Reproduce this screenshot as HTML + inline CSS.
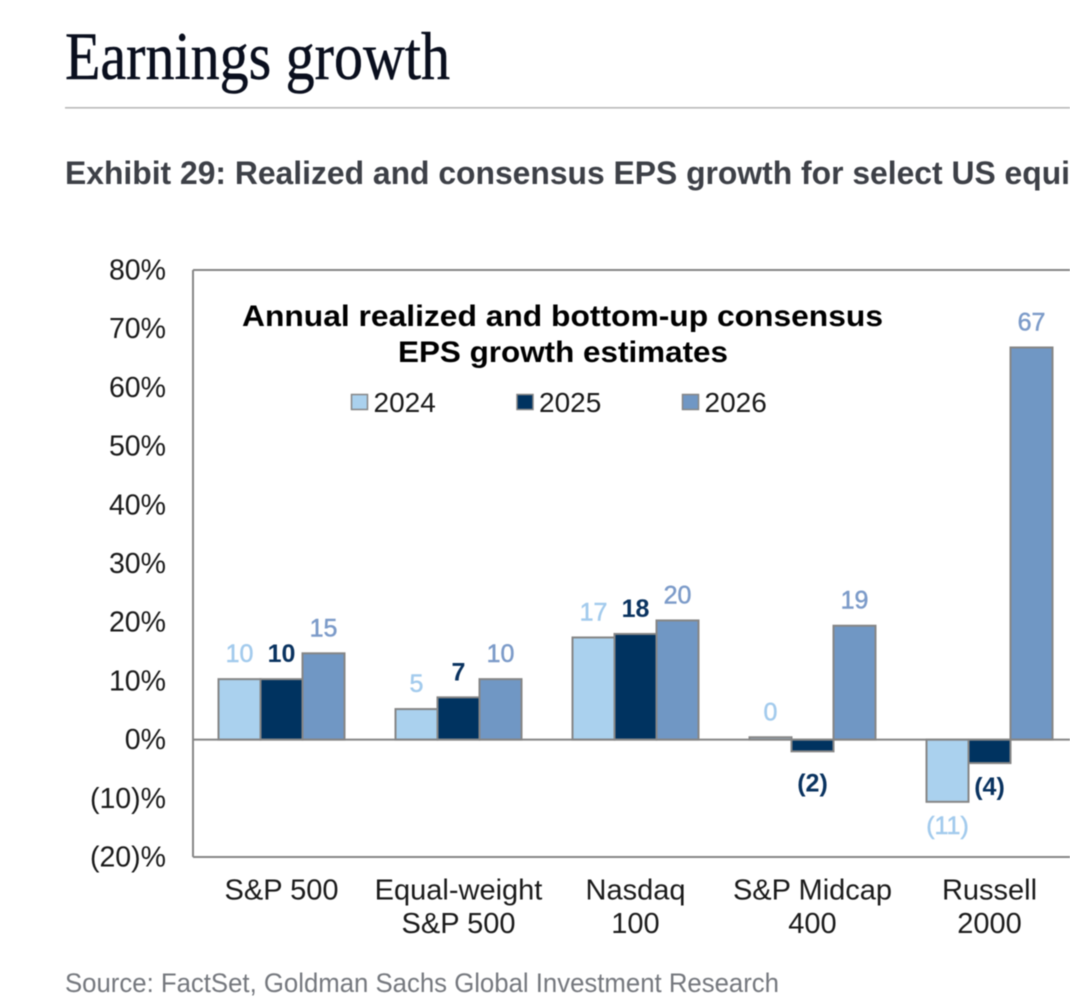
<!DOCTYPE html>
<html lang="en">
<head>
<meta charset="utf-8">
<title>Earnings growth</title>
<style>
html,body{margin:0;padding:0;background:#fff;width:1070px;height:1003px;overflow:hidden}
svg{display:block;filter:blur(0.4px)}
text{font-family:"Liberation Sans",sans-serif}
</style>
</head>
<body>
<svg id="chart" width="1070" height="1003" viewBox="0 0 1070 1003" xmlns="http://www.w3.org/2000/svg">
  <rect x="0" y="0" width="1070" height="1003" fill="#fff"/>
  <text x="65" y="79" font-size="68" textLength="385" lengthAdjust="spacingAndGlyphs" fill="#0a0f1e" stroke="#0a0f1e" stroke-width="0.5" style='font-family:"Liberation Serif",serif'>Earnings growth</text>
  <rect x="65" y="107" width="1005" height="1.6" fill="#b9b9b9"/>
  <text x="65" y="184" font-size="32" font-weight="700" textLength="1005" lengthAdjust="spacingAndGlyphs" fill="#3d4047">Exhibit 29: Realized and consensus EPS growth for select US equi</text>
  <text x="562.5" y="326" font-size="30" font-weight="700" text-anchor="middle" textLength="641" lengthAdjust="spacingAndGlyphs" fill="#000">Annual realized and bottom-up consensus</text>
  <text x="563" y="362" font-size="30" font-weight="700" text-anchor="middle" textLength="330" lengthAdjust="spacingAndGlyphs" fill="#000">EPS growth estimates</text>
  <g id="plot"></g>
  <text x="65" y="992" font-size="27" textLength="714" lengthAdjust="spacingAndGlyphs" fill="#75787e">Source: FactSet, Goldman Sachs Global Investment Research</text>
</svg>
<script>
const categories = [["S&P 500"], ["Equal-weight", "S&P 500"], ["Nasdaq", "100"], ["S&P Midcap", "400"], ["Russell", "2000"]];
const seriesNames = ["2024", "2025", "2026"];
const values2024 = [10.3, 5.2, 17.4, 0.4, -10.6];
const values2025 = [10.3, 7.2, 18.0, -2.0, -4.0];
const values2026 = [14.7, 10.3, 20.3, 19.4, 66.8];
const tickValues = [80, 70, 60, 50, 40, 30, 20, 10, 0, -10, -20];
const seriesValues = [values2024, values2025, values2026];

const NS = "http://www.w3.org/2000/svg";
const plot = document.getElementById("plot");
const fills = ["#aad1ee", "#003360", "#7097c4"];
const labelFills = ["#a3cbed", "#0a3360", "#7c9bc9"];
const labelWeights = ["400", "700", "400"];
const frame = "#868686";
const plotLeft = 193, plotRight = 1071, plotTop = 270, plotBottom = 857;
const yMin = -20, yMax = 80;
const bandStep = 177, barWidth = 42;

function y(v) { return plotBottom - (v - yMin) / (yMax - yMin) * (plotBottom - plotTop); }
function bandCenter(i) { return plotLeft + bandStep * (i + 0.5); }
function barX(i, s) { return bandCenter(i) - barWidth * 1.5 + s * barWidth; }
function fmtTick(v) { return v < 0 ? "(" + Math.abs(v) + ")%" : v + "%"; }
function fmtVal(v) { const r = Math.round(v); return r < 0 ? "(" + Math.abs(r) + ")" : String(r); }
function mk(tag, parent) { const e = document.createElementNS(NS, tag); parent.appendChild(e); return e; }
function set(e, o) { for (const k in o) e.setAttribute(k, o[k]); }

/* y tick labels */
tickValues.forEach(function (t) {
  const e = mk("text", plot);
  
  
  set(e, { x: 166, y: y(t) + 9.5, "text-anchor": "end", "font-size": 28.5, fill: "#1a1a1a" });
  e.textContent = fmtTick(t);
});

/* bars */
seriesValues.forEach(function (vals, s) {
  vals.forEach(function (v, i) {
    const r = mk("rect", plot);
    
    
    const top = Math.min(y(v), y(0)), h = Math.abs(y(v) - y(0));
    set(r, { x: barX(i, s), y: top, width: barWidth, height: h, fill: fills[s], stroke: frame, "stroke-width": 2 });
  });
});

/* frame: top, left, bottom and zero line */
[[plotLeft, plotTop, plotRight, plotTop, "plot-top-border"],
 [plotLeft, plotTop, plotLeft, plotBottom, "y-axis-line"],
 [plotLeft, plotBottom, plotRight, plotBottom, "plot-bottom-border"],
 [plotLeft, y(0), plotRight, y(0), "zero-line"]].forEach(function (a) {
  const l = mk("line", plot);
  
  
  set(l, { x1: a[0], y1: a[1], x2: a[2], y2: a[3], stroke: frame, "stroke-width": 2 });
});

/* value labels */
seriesValues.forEach(function (vals, s) {
  vals.forEach(function (v, i) {
    const t = mk("text", plot);
    
    
    const base = v >= 0 ? y(v) - 17 : Math.max(y(v) + 32, y(0) + 52);
    set(t, { x: barX(i, s) + barWidth / 2, y: base, "text-anchor": "middle", "font-size": 25, "font-weight": labelWeights[s], fill: labelFills[s], stroke: labelFills[s], "stroke-width": s === 1 ? 0 : 0.5 });
    t.textContent = fmtVal(v);
  });
});

/* category labels */
categories.forEach(function (lines, i) {
  lines.forEach(function (line, n) {
    const t = mk("text", plot);
    
    
    set(t, { x: bandCenter(i), y: 899.5 + n * 33.5, "text-anchor": "middle", "font-size": 29, fill: "#1a1a1a" });
    t.textContent = line;
  });
});

/* legend */
seriesNames.forEach(function (name, s) {
  const swatchX = 351.5 + s * 165.5;
  const k = mk("rect", plot);
  
  
  set(k, { x: swatchX, y: 394.5, width: 16, height: 15, fill: fills[s], stroke: frame, "stroke-width": 1.5 });
  const t = mk("text", plot);
  
  
  set(t, { x: swatchX + 22, y: 412, "font-size": 28, fill: "#1a1a1a" });
  t.textContent = name;
});
</script>
</body>
</html>
